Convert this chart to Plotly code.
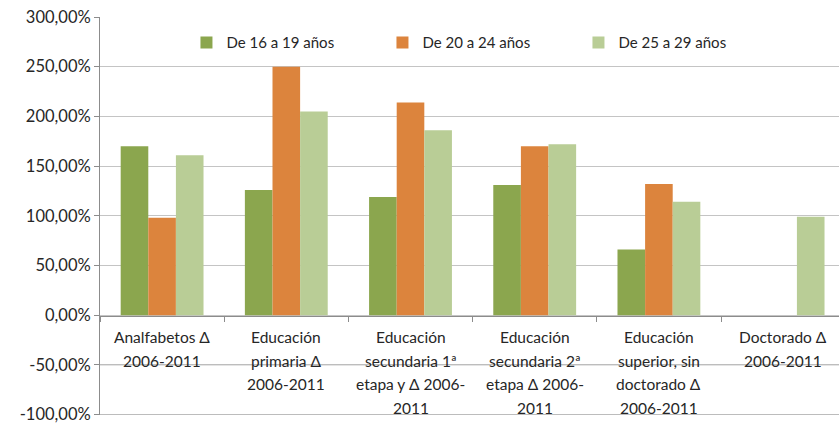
import plotly.graph_objects as go

categories = ["Analfabetos", "Primaria", "Secundaria1", "Secundaria2", "Superior", "Doctorado"]
category_labels = [
    ["Analfabetos Δ", "2006-2011"],
    ["Educación", "primaria Δ", "2006-2011"],
    ["Educación", "secundaria 1ª", "etapa y Δ 2006-", "2011"],
    ["Educación", "secundaria 2ª", "etapa Δ 2006-", "2011"],
    ["Educación", "superior, sin", "doctorado Δ", "2006-2011"],
    ["Doctorado Δ", "2006-2011"],
]
series_names = ["De 16 a 19 años", "De 20 a 24 años", "De 25 a 29 años"]
values_16_19 = [170, 126, 119, 131, 66, None]
values_20_24 = [98, 250, 214, 170, 132, None]
values_25_29 = [161, 205, 186, 172, 114, 99]
series_colors = ["#8ba64e", "#dc843d", "#b9cd96"]
y_tickvals = [-100, -50, 0, 50, 100, 150, 200, 250, 300]
y_ticktext = ["-100,00%", "-50,00%", "0,00%", "50,00%", "100,00%", "150,00%",
              "200,00%", "250,00%", "300,00%"]

FONT = "Lato"
TXT = "#262626"
GRID = "#c4c4c4"

fig = go.Figure()
for name, vals, col in zip(series_names, [values_16_19, values_20_24, values_25_29], series_colors):
    fig.add_trace(go.Bar(x=categories, y=vals, name=name, marker=dict(color=col, line=dict(width=0))))
# invisible helper trace so the overlaid category axis (ticks on the zero line) shares the categories
fig.add_trace(go.Scatter(x=categories, y=[0] * len(categories), xaxis="x2", mode="markers",
                         marker=dict(opacity=0), showlegend=False, hoverinfo="skip"))

annotations = []
for cat, lines in zip(categories, category_labels):
    for i, line in enumerate(lines):
        annotations.append(dict(
            x=cat, y=0, xref="x", yref="y", text=line, showarrow=False,
            xanchor="center", yanchor="middle", yshift=-(22 + i * 23.5),
            font=dict(family=FONT, size=15.5, color=TXT),
        ))

# gridlines for the negative part of the value axis (drawn at the tick values)
for v in y_tickvals:
    if v < 0:
        fig.add_hline(y=v, line=dict(color="#b8b8b8", width=1), layer="above")

fig.update_layout(
    width=839, height=424,
    margin=dict(l=100, r=0, t=17, b=6),
    paper_bgcolor="white", plot_bgcolor="white",
    barmode="group", bargap=0.333, bargroupgap=0,
    font=dict(family=FONT, size=15, color=TXT),
    showlegend=True,
    legend=dict(
        orientation="h", x=0.117, y=0.935, xanchor="left", yanchor="middle",
        entrywidth=151, entrywidthmode="pixels",
        font=dict(family=FONT, size=15, color=TXT),
        bgcolor="rgba(0,0,0,0)", itemwidth=30,
    ),
    xaxis=dict(
        type="category", range=[-0.5, 5.45],
        showticklabels=False, showgrid=False, zeroline=False, showline=False, ticks="",
    ),
    xaxis2=dict(
        type="category", range=[-0.5, 5.45], overlaying="x", anchor="free", position=0.25,
        showticklabels=False, showgrid=False, zeroline=False,
        showline=True, linecolor="#8c8c8c", linewidth=1.3,
        ticks="outside", tickson="boundaries", ticklen=5, tickcolor="#8c8c8c",
    ),
    yaxis=dict(
        range=[-100.43, 300], tickvals=y_tickvals, ticktext=y_ticktext,
        showgrid=True, gridcolor=GRID, gridwidth=1, zeroline=False,
        showline=True, linecolor="#8c8c8c", linewidth=1,
        ticks="outside", ticklen=5, tickcolor="#8c8c8c",
        ticklabeloverflow="allow",
        tickfont=dict(family=FONT, size=16.5, color=TXT),
    ),
    annotations=annotations,
)

fig.write_html("out.html", config={"displayModeBar": False},
               post_script="document.body.style.margin='0';")
